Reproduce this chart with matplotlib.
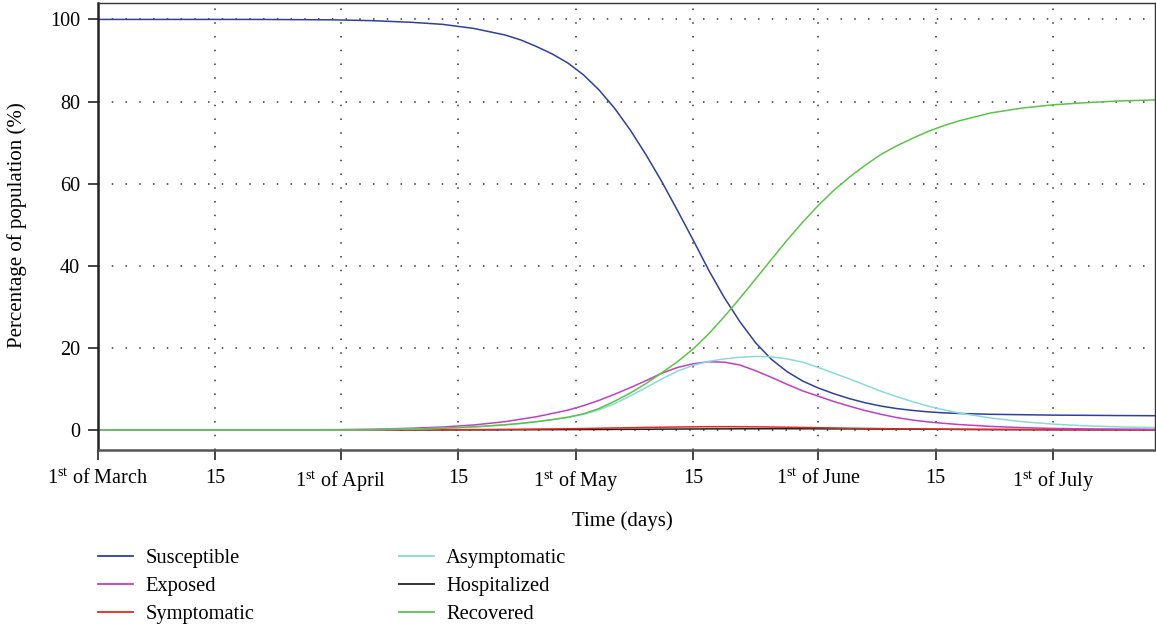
import matplotlib
matplotlib.use("Agg")
import matplotlib.pyplot as plt
from matplotlib.lines import Line2D

# ---------------- Styling ----------------
plt.rcParams.update({
    "font.family": ["Liberation Serif", "DejaVu Serif"],
    "font.size": 14.5,
    "mathtext.fontset": "custom",
    "mathtext.rm": "Liberation Serif",
    "mathtext.it": "Liberation Serif:italic",
})

# ---------------- Data (% of population) ----------------
days = [0, 5, 10, 15, 20, 25, 30, 35, 40, 44, 48,
        50, 52, 54, 56, 58, 60, 62, 64, 66, 68, 70, 72, 74, 76, 78, 80, 82, 84,
        86, 88, 90, 92, 94, 96, 98, 100, 102, 104, 106, 108, 110,
        114, 118, 122, 126, 130, 135]

susceptible = [100, 100, 100, 100, 100, 99.95, 99.9, 99.7, 99.3, 98.8, 97.8,
               97.0, 96.2, 95.0, 93.4, 91.6, 89.4, 86.5, 82.8, 78.3, 73.0, 67.0,
               60.5, 53.5, 46.3, 38.9, 32.2, 26.3, 21.2, 17.2, 14.2, 11.9, 10.2,
               8.8, 7.6, 6.6, 5.8, 5.2, 4.75, 4.4, 4.15, 4.0,
               3.8, 3.7, 3.6, 3.55, 3.5, 3.45]

exposed = [0, 0, 0, 0, 0, 0, 0.05, 0.15, 0.4, 0.7, 1.2,
           1.6, 2.0, 2.6, 3.2, 4.0, 4.8, 5.9, 7.2, 8.7, 10.3, 12.0, 13.8, 15.2,
           16.1, 16.6, 16.5, 15.8, 14.4, 12.8, 11.1, 9.5, 8.2, 6.9, 5.75, 4.7,
           3.8, 3.0, 2.4, 1.95, 1.6, 1.3,
           0.85, 0.55, 0.35, 0.25, 0.2, 0.15]

symptomatic = [0, 0, 0, 0, 0, 0, 0, 0.01, 0.02, 0.04, 0.07,
               0.09, 0.12, 0.15, 0.19, 0.23, 0.28, 0.33, 0.4, 0.47, 0.53, 0.6,
               0.65, 0.7, 0.74, 0.77, 0.78, 0.77, 0.74, 0.7, 0.65, 0.59, 0.53,
               0.47, 0.41, 0.36, 0.31, 0.27, 0.23, 0.2, 0.17, 0.14,
               0.1, 0.07, 0.05, 0.03, 0.02, 0.01]

asymptomatic = [0, 0, 0, 0, 0, 0, 0, 0.05, 0.2, 0.4, 0.7,
                0.95, 1.2, 1.55, 2.0, 2.5, 3.0, 3.8, 4.9, 6.4, 8.3, 10.3, 12.4,
                14.3, 15.7, 16.7, 17.3, 17.7, 17.9, 17.8, 17.3, 16.5, 15.2, 13.8,
                12.4, 10.9, 9.4, 8.1, 6.9, 5.8, 4.9, 4.1,
                2.9, 2.0, 1.4, 1.0, 0.75, 0.55]

hospitalized = [0, 0, 0, 0, 0, 0, 0, 0, 0, 0.01, 0.02,
                0.02, 0.03, 0.04, 0.05, 0.06, 0.07, 0.09, 0.1, 0.12, 0.14, 0.16,
                0.18, 0.2, 0.22, 0.24, 0.25, 0.27, 0.27, 0.28, 0.28, 0.27, 0.26,
                0.25, 0.24, 0.22, 0.2, 0.19, 0.17, 0.15, 0.14, 0.12,
                0.09, 0.07, 0.05, 0.04, 0.03, 0.02]

recovered = [0, 0, 0, 0, 0, 0, 0.02, 0.05, 0.2, 0.4, 0.75,
             1.0, 1.25, 1.6, 2.0, 2.5, 3.1, 3.9, 5.2, 7.0, 9.0, 11.3, 13.9, 16.6,
             19.7, 23.4, 27.6, 32.1, 36.8, 41.5, 46.2, 50.6, 54.7, 58.4, 61.6,
             64.5, 67.1, 69.2, 71.0, 72.7, 74.1, 75.3,
             77.2, 78.4, 79.2, 79.7, 80.1, 80.4]

tick_days = [0, 15, 31, 46, 61, 76, 92, 107, 122]
tick_labels = ["1$^{\\rm st}$ of March", "15", "1$^{\\rm st}$ of April", "15",
               "1$^{\\rm st}$ of May", "15", "1$^{\\rm st}$ of June", "15",
               "1$^{\\rm st}$ of July"]

COLORS = {
    "Susceptible": "#2F3FA0",
    "Exposed": "#C23FC2",
    "Symptomatic": "#E5261F",
    "Asymptomatic": "#86DCDA",
    "Hospitalized": "#222222",
    "Recovered": "#5BC446",
}

# ---------------- Figure ----------------
fig = plt.figure(figsize=(11.56, 6.28), dpi=100)
ax = fig.add_axes([98 / 1156, 1 - 450 / 628, 1057 / 1156, 447 / 628])

series = {
    "Hospitalized": hospitalized,
    "Symptomatic": symptomatic,
    "Susceptible": susceptible,
    "Exposed": exposed,
    "Asymptomatic": asymptomatic,
    "Recovered": recovered,
}
for name, vals in series.items():
    ax.plot(days, vals, color=COLORS[name], lw=1.1)

ax.set_xlim(0, 135)
ax.set_ylim(-4.9, 104)
ax.set_yticks([0, 20, 40, 60, 80, 100])
ax.set_xticks(tick_days)
ax.set_xticklabels(tick_labels)

ax.grid(True, color="#333333", linestyle=(0, (1, 8)), lw=1.1)
ax.tick_params(axis="both", direction="out", length=7, width=1.4,
               color="#444444", labelsize=14.5)
ax.tick_params(axis="x", pad=7)
ax.tick_params(axis="y", pad=6)

ax.spines["left"].set_linewidth(1.8)
ax.spines["left"].set_color("#222222")
ax.spines["bottom"].set_linewidth(1.8)
ax.spines["bottom"].set_color("#555555")
ax.spines["top"].set_linewidth(1.0)
ax.spines["top"].set_color("#333333")
ax.spines["right"].set_linewidth(1.0)
ax.spines["right"].set_color("#333333")

fig.text(622 / 1156, 1 - 521 / 628, "Time (days)", ha="center", va="center",
         fontsize=15)
fig.text(17 / 1156, 1 - 225 / 628, "Percentage of population (%)", ha="center",
         va="center", rotation=90, fontsize=15)

# two legend columns placed separately
def _handles(names):
    return [Line2D([0], [0], color=COLORS[n], lw=1.3, label=n) for n in names]

leg_kw = dict(loc="upper left", frameon=False, fontsize=14.8, borderpad=0,
              borderaxespad=0, handlelength=1.7, handletextpad=0.6,
              labelspacing=0.42)
fig.legend(handles=_handles(["Susceptible", "Exposed", "Symptomatic"]),
           bbox_to_anchor=(98 / 1156, 1 - 549 / 628), **leg_kw)
fig.legend(handles=_handles(["Asymptomatic", "Hospitalized", "Recovered"]),
           bbox_to_anchor=(399 / 1156, 1 - 549 / 628), **leg_kw)

fig.savefig("out.png", dpi=100)
